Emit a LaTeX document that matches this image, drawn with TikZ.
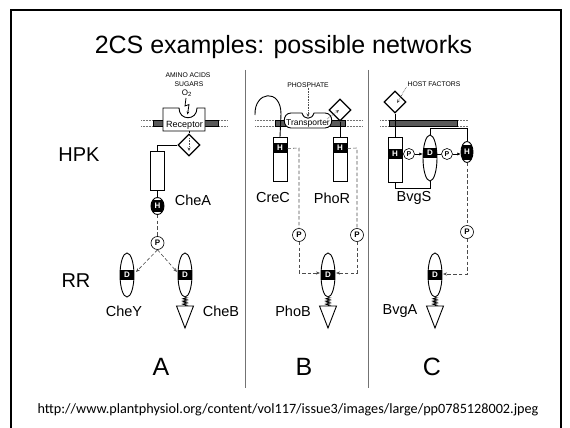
\documentclass[tikz,border=0pt]{standalone}
\usepackage{fontspec}
\setmainfont{Liberation Sans}
\newfontfamily\urlfont{Carlito}
\usetikzlibrary{shapes.geometric,arrows.meta,decorations.pathmorphing}
\begin{document}
\begin{tikzpicture}[x=1pt,y=-1pt,
  ol/.style={draw=black, line width=0.9pt},
  box/.style={draw=black, fill=white, line width=0.9pt},
  memb/.style={draw=black, fill=black!65, line width=0.4pt},
  mdot/.style={draw=black!55, densely dotted, line width=0.5pt},
  sig/.style={draw=black!70, dash pattern=on 3.5pt off 2.2pt, line width=0.6pt},
  arrtip/.style={-{Stealth[length=4pt,width=3.2pt]}},
  dotarr/.style={draw=black!70, densely dotted, line width=0.6pt, -{Stealth[length=3.5pt,width=3pt]}},
  pc/.style={circle, draw, fill=white, inner sep=0pt, minimum size=13pt, line width=0.6pt, font=\bfseries\fontsize{8}{8}\selectfont},
  dia/.style={diamond, draw, fill=white, line width=1.3pt, minimum width=22pt, minimum height=22pt, inner sep=0pt},
  rrn/.style={ellipse, draw, fill=white, line width=0.9pt, minimum width=14pt, minimum height=44pt, inner sep=0pt,
     path picture={\fill[black] (path picture bounding box.west) ++(-2,#1-5) rectangle ++(24,10);}},
  rrn/.default=0,
  egg/.style={ellipse, draw, fill=white, line width=0.9pt, minimum width=13pt, minimum height=17pt, inner sep=0pt,
     path picture={\fill[black] (path picture bounding box.west) ++(-2,-#1) rectangle ++(24,2*#1);}},
  egg/.default=6,
  hbox/.style={draw=black, fill=white, line width=0.9pt, minimum width=14pt, inner sep=0pt,
     path picture={\fill[black] (path picture bounding box.north) ++(-10,#1) rectangle ++(20,10);}},
  wl/.style={text=white, font=\bfseries\fontsize{8}{8}\selectfont, inner sep=0pt},
  lab/.style={font=\fontsize{14.5}{14.5}\selectfont, inner sep=0pt},
  sm/.style={font=\fontsize{6.8}{6.8}\selectfont, inner sep=0pt},
  spring/.style={draw, line width=0.5pt, decorate, decoration={zigzag, segment length=1.5pt, amplitude=2.2pt}},
  big/.style={font=\fontsize{25}{25}\selectfont, inner sep=0pt},
]
\useasboundingbox (0,0) rectangle (570,428);
% frame
\draw[line width=2.2pt] (11,440) -- (11,10) -- (561,10) -- (561,440);
% title
\node[font=\fontsize{25}{25}\selectfont, inner sep=0pt, anchor=base] (title) at (283.5,53) {2CS examples: possible networks};
\node[font=\fontsize{20}{20}\selectfont, inner sep=0pt] (hpk) at (79,155) {HPK};
\node[font=\fontsize{20}{20}\selectfont, inner sep=0pt] (rr) at (76,281) {RR};
% dividers
\draw[draw=black!55, line width=0.9pt] (245,70) -- (245,388);
\draw[draw=black!55, line width=0.9pt] (368,70) -- (368,388);

% ---------------- Panel A
\node[sm] (amino) at (188,75) {AMINO ACIDS};
\node[sm] (sugars) at (189,84) {SUGARS};
\node[font=\fontsize{8}{8}\selectfont, inner sep=0.5pt] (o2) at (187,93) {O\textsubscript{2}};
\draw[mdot] (141,120) -- (228,120);
\draw[mdot] (141,126) -- (228,126);
\draw[memb] (153,120) rectangle (218,126);
\draw[box] (163,131) -- (163,108) -- (179,108) .. controls (179,121) and (197,121) .. (197,108) -- (205,108) -- (205,131) -- cycle;
\node[font=\fontsize{9}{9}\selectfont, inner sep=0pt] (rectxt) at (184.5,125) {Receptor};
\coordinate (bolt) at (186,98);
\draw[line width=0.8pt, -{Stealth[length=3pt,width=2.6pt]}] (bolt) -- ++(-1,8) -- ++(4,-1.5) -- ++(-1.5,10);
\coordinate (recb) at (189,131);
\node[dia] (diaA) at (189,145) {};
\draw[ol] (recb) -- (diaA.north);
\draw[dotarr] (189,138) -- (189,151);
\node[hbox=100, minimum height=39pt, anchor=north] (cheA) at (157.5,151) {};
\draw[ol] (diaA.west) -- (157.5,145) -- (cheA.north);
\node[egg] (hA) at (157.5,206) {};
\node[wl] (hAl) at (hA) {H};
\draw[ol] (cheA.south) -- (hA.north);
\node[lab] (cheAl) at (193,200) {CheA};
\node[pc] (pA) at (157.5,243) {P};
\draw[sig] (hA.south) -- (pA.north);
\node[rrn] (cheY) at (127,275) {};
\node[wl] (cheYd) at (cheY) {D};
\node[rrn] (cheB) at (185,275) {};
\node[wl] (cheBd) at (cheB) {D};
\draw[sig, arrtip] (pA.south) -- (136,272);
\draw[sig, arrtip] (pA.south) -- (177,272);
\coordinate (triA) at (185,306);
\draw[spring] (cheB.south) -- (triA);
\draw[box] (triA) ++(-8.5,0) -- ++(17,0) -- ++(-8.5,22) -- cycle;
\node[lab] (cheYl) at (124,311) {CheY};
\node[lab] (cheBl) at (221,311) {CheB};
\node[big] (la) at (161,367) {A};

% ---------------- Panel B
\node[sm] (phos) at (308,85) {PHOSPHATE};
\draw[mdot] (255,120) -- (362,120);
\draw[mdot] (255,126) -- (362,126);
\draw[memb] (275,120) rectangle (345,126);
\node[hbox=6, minimum height=44pt, anchor=north] (creC) at (280,137) {};
\node[wl] (creCh) at (280,148) {H};
\node[hbox=6, minimum height=44pt, anchor=north] (phoR) at (340,137) {};
\node[wl] (phoRh) at (340,148) {H};
\draw[ol] (255,115) .. controls (254,91) and (281,88) .. (281,114) -- (creC.north);
\node[dia] (diaB) at (340,110) {};
\draw[ol] (diaB.south) -- (phoR.north);
\draw[box] (291,113) -- (302,113) .. controls (304,120) and (312,120) .. (314,113) -- (325,113)
   .. controls (334,113) and (334,128) .. (325,128) -- (291,128) .. controls (282,128) and (282,113) .. (291,113) -- cycle;
\node[font=\fontsize{8.5}{8.5}\selectfont, inner sep=0pt] (trtxt) at (308,123) {Transporter};
\draw[dotarr] (phos.south) -- (308,117);
\draw[dotarr] (327,119) -- (339,110);
\node[lab] (creCl) at (273,198) {CreC};
\node[lab] (phoRl) at (332,198) {PhoR};
\node[pc] (pB1) at (299,235) {P};
\node[pc] (pB2) at (357,235) {P};
\node[rrn] (phoB) at (328,275) {};
\node[wl] (phoBd) at (phoB) {D};
\coordinate (phoBl) at (320,273);
\coordinate (phoBr) at (336,273);
\draw[sig] ([yshift=11pt]creC.east) -- (299,148) -- (pB1.north);
\draw[sig, arrtip] (pB1.south) -- (299,273) -- (phoBl);
\draw[sig] ([yshift=11pt]phoR.east) -- (357,148) -- (pB2.north);
\draw[sig, arrtip] (pB2.south) -- (357,273) -- (phoBr);
\coordinate (triB) at (328,306);
\draw[spring] (phoB.south) -- (triB);
\draw[box] (triB) ++(-8.5,0) -- ++(17,0) -- ++(-8.5,22) -- cycle;
\node[lab] (phoBl2) at (293,311) {PhoB};
\node[big] (lb) at (304,367) {B};

% ---------------- Panel C
\node[sm] (host) at (434,84) {HOST FACTORS};
\draw[mdot] (380,120) -- (468,120);
\draw[mdot] (380,126) -- (468,126);
\draw[memb] (389,120) rectangle (457,126);
\node[hbox=12, minimum height=45pt, anchor=north] (bvgS) at (395,137) {};
\node[wl] (bvgSh) at (395,154) {H};
\node[dia] (diaC) at (395,102) {};
\draw[ol] (diaC.south) -- (bvgS.north);
\draw[dotarr] (host.west) ++(-1,3) -- (397,103);
\node[rrn=-5, minimum height=46pt] (dC) at (430,158) {};
\node[wl] (dCd) at (430,153) {D};
\node[egg=7.5, minimum width=12pt, minimum height=21pt] (hC) at (467,152) {};
\node[wl] (hCh) at (hC) {H};
\node[pc, minimum size=11pt, font=\bfseries\fontsize{7}{7}\selectfont] (pC1) at (409,154) {P};
\node[pc, minimum size=11pt, font=\bfseries\fontsize{7}{7}\selectfont] (pC2) at (447,154) {P};
\draw[line width=0.7pt, -{Latex[length=3.2pt,width=3.2pt]}] (pC1.east) -- (pC1.east -| dC.west);
\draw[line width=0.7pt] (pC2.west -| dC.east) -- (pC2.west);
\draw[line width=0.7pt, -{Latex[length=3.2pt,width=3.2pt]}] (pC2.east) -- (pC2.east -| hC.west);
\draw[ol] (dC.north) -- ++(0,-6) -| (hC.north);
\draw[ol] (bvgS.south) -- ++(0,6) -| (dC.south);
\node[lab] (bvgSl) at (414,198) {BvgS};
\node[pc] (pC) at (467,232) {P};
\draw[sig] (hC.south) -- (pC.north);
\node[rrn] (bvgA) at (435,275) {};
\node[wl] (bvgAd) at (bvgA) {D};
\coordinate (bvgAr) at (443,274);
\draw[sig, arrtip] (pC.south) -- (467,274) -- (bvgAr);
\coordinate (triC) at (435,306);
\draw[spring] (bvgA.south) -- (triC);
\draw[box] (triC) ++(-8.5,0) -- ++(17,0) -- ++(-8.5,22) -- cycle;
\node[lab] (bvgAl) at (400,311) {BvgA};
\node[big] (lc) at (432,367) {C};

% URL
\node[font=\urlfont\fontsize{14.2}{14.2}\selectfont, inner sep=0pt] (url) at (288,410) {http://www.plantphysiol.org/content/vol117/issue3/images/large/pp0785128002.jpeg};
\end{tikzpicture}
\end{document}
